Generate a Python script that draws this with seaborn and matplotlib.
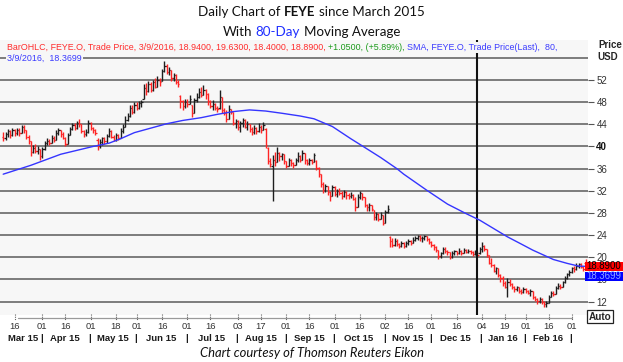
import numpy as np
import pandas as pd
import matplotlib
matplotlib.use("Agg")
import matplotlib.pyplot as plt
from matplotlib.patches import Rectangle
import seaborn as sns

# ---------------- data ----------------
HOLIDAYS = ['2015-04-03', '2015-05-25', '2015-07-03', '2015-09-07', '2015-11-26',
            '2015-12-25', '2016-01-01', '2016-01-18', '2016-02-15']
START, END = '2015-03-09', '2016-03-09'

OPEN = [41.8, 41.5, 42.2, 42.8, 42.0,  42.9, 42.4, 43.0, 42.5, 43.6,  42.9, 41.8, 41.0, 39.0, 39.8,
        39.2, 39.6, 38.2, 39.6,  40.6, 41.0, 40.6, 41.5, 41.2,  42.5, 42.9, 42.3, 41.6, 40.4,
        42.0, 43.2, 43.8, 43.4, 44.3,  44.0, 42.8, 42.2, 42.6, 44.2,  43.3, 43.0, 41.2, 40.0, 40.8,
        41.5, 40.9, 41.9, 42.8, 41.8,  41.2, 42.0, 41.6, 42.8, 43.6,  44.8, 45.5, 46.9, 46.3,
        47.4, 46.9, 47.8, 48.6, 50.6,  50.0, 51.2, 50.2, 51.6, 50.8,  52.0, 51.9, 53.6, 54.6, 53.4,
        53.8, 52.4, 52.9, 51.6, 49.2,  48.2, 47.3, 48.0, 47.6,  47.4, 46.0, 48.4, 49.0, 49.8,
        49.3, 50.2, 49.4, 48.2, 47.3,  47.6, 47.0, 46.9, 49.0, 46.6,  46.0, 45.0, 46.8, 46.3, 44.3,
        44.6, 43.6, 44.2, 44.8, 43.6,  44.1, 43.2, 42.6, 43.4, 42.8,  43.6, 43.0, 43.2, 39.8, 37.3,
        36.5, 37.6, 37.2, 38.8, 38.2,  38.6, 37.4, 36.5, 37.6, 37.0,  36.6, 37.5, 38.3, 37.6,
        38.9, 37.5, 37.0, 37.6, 37.2,  37.4, 36.2, 35.0, 33.2, 32.1,  32.8, 31.8, 31.0, 32.6, 31.4,
        32.0, 31.6, 31.0, 31.8, 31.2,  31.0, 31.3, 30.6, 29.0, 30.9,  31.6, 30.8, 29.4, 29.0, 29.5,
        28.6, 27.2, 27.8, 27.0, 27.6,  26.2, 28.2, 23.6, 23.0, 22.3,  22.9, 22.4, 22.0, 22.5, 22.1,
        22.6, 23.0, 22.6, 23.2, 23.4,  23.9, 23.4, 23.5, 23.8,  23.3, 22.8, 22.3, 21.8, 21.3,
        20.2, 20.8, 21.5, 21.2, 20.9,  20.0, 20.8, 21.1, 20.7, 21.2,  20.8, 21.3, 21.0, 21.2,
        20.9, 20.6, 21.0, 20.8,  21.5, 22.1, 21.5, 20.4, 19.0,  18.6, 17.6, 18.0, 16.8, 16.2,
        15.3, 14.7, 15.6, 15.2,  14.6, 14.2, 14.6, 14.0, 13.8,  14.3, 13.9, 13.5, 14.0, 12.8,
        12.4, 12.1, 12.5, 12.0, 11.5,  11.8, 12.9, 13.6, 13.4,  14.4, 14.9, 14.6, 15.5, 16.2,
        16.9, 17.3, 18.0, 17.8, 18.5,  18.7, 18.3, 18.94]

HIGH = [42.7, 42.6, 43.2, 43.0, 43.3,  43.2, 43.4, 43.3, 43.9, 43.8,  43.0, 42.0, 41.0, 40.3, 40.4,
        40.0, 39.4, 39.9, 41.0,  41.5, 41.3, 42.1, 41.9, 43.0,  43.3, 43.0, 42.6, 41.7, 42.4,
        43.6, 44.2, 44.3, 44.6, 45.0,  44.1, 43.0, 43.1, 44.7, 44.4,  43.6, 43.2, 41.5, 41.3, 41.8,
        41.7, 42.3, 43.3, 43.0, 42.0,  42.4, 42.2, 43.4, 44.0, 45.5,  46.1, 47.4, 47.4, 48.0,
        48.0, 48.2, 48.4, 51.2, 51.5,  51.8, 51.6, 52.0, 52.3, 52.7,  52.4, 54.0, 55.4, 54.9, 54.3,
        53.5, 53.3, 53.0, 52.0, 49.3,  48.4, 48.6, 48.5, 49.3,  47.5, 48.7, 49.6, 50.6, 50.8,
        51.1, 50.4, 49.6, 48.4, 48.4,  47.9, 47.3, 50.2, 47.5, 47.0,  46.6, 47.5, 46.8, 45.3, 45.0,
        44.8, 44.6, 45.1, 44.9, 44.6,  44.0, 43.6, 43.9, 43.6, 44.2,  43.8, 44.5, 43.3, 39.9, 38.0,
        38.5, 39.0, 39.9, 39.0, 38.9,  38.5, 37.4, 38.0, 37.8, 37.2,  37.9, 39.0, 38.5, 39.4,
        38.8, 37.8, 37.9, 37.8, 38.9,  37.5, 36.3, 34.6, 33.5, 33.3,  32.9, 32.0, 33.1, 32.8, 32.4,
        32.5, 31.9, 32.2, 31.9, 31.6,  31.7, 31.5, 30.8, 31.4, 32.0,  31.6, 30.9, 29.6, 29.8, 29.5,
        28.6, 28.2, 28.0, 28.1, 27.5,  28.5, 29.5, 23.8, 23.5, 23.4,  23.3, 22.6, 22.9, 22.8, 22.9,
        23.3, 23.2, 23.6, 23.8, 24.0,  24.0, 23.8, 24.0, 23.9,  23.5, 22.9, 22.4, 22.0, 21.2,
        21.0, 21.9, 21.8, 21.4, 20.9,  21.1, 21.4, 21.2, 21.6, 21.3,  21.6, 21.5, 21.5, 21.3,
        21.1, 21.3, 21.1, 21.9,  22.8, 22.3, 21.5, 20.3, 19.9,  18.8, 18.3, 18.0, 17.0, 16.6,
        15.8, 16.3, 16.0, 15.4,  14.8, 14.9, 14.7, 14.3, 14.6,  14.5, 14.1, 14.3, 13.9, 13.0,
        12.6, 12.8, 12.6, 12.1, 12.1,  13.2, 14.0, 13.9, 14.8,  15.4, 15.2, 15.8, 16.6, 17.2,
        17.7, 18.3, 18.4, 18.9, 19.0,  19.0, 18.4, 19.63]

LOW = [41.0, 41.2, 41.8, 41.6, 41.9,  41.9, 42.1, 41.9, 42.4, 42.5,  41.4, 40.5, 38.2, 38.8, 38.9,
       38.6, 37.6, 38.0, 39.4,  40.2, 40.2, 40.8, 40.8, 41.6,  42.0, 41.8, 41.3, 40.0, 40.6,
       42.2, 42.9, 43.0, 43.2, 43.6,  42.5, 41.7, 41.9, 42.4, 42.9,  42.5, 42.0, 39.4, 39.8, 40.3,
       40.5, 40.7, 41.8, 41.5, 40.9,  40.9, 41.1, 41.6, 42.5, 43.5,  44.6, 45.3, 45.8, 46.1,
       46.6, 46.8, 47.2, 48.6, 49.3,  49.8, 49.9, 50.1, 50.5, 50.8,  51.0, 51.9, 53.4, 53.1, 52.9,
       51.8, 51.9, 51.2, 50.7, 47.0,  46.6, 46.9, 47.2, 47.8,  45.3, 46.0, 48.0, 48.8, 49.0,
       49.3, 48.6, 47.5, 47.0, 46.6,  46.5, 46.3, 46.8, 46.0, 45.6,  44.4, 45.6, 45.8, 43.8, 43.3,
       43.0, 42.6, 43.5, 43.3, 43.0,  42.6, 42.1, 42.3, 42.3, 42.7,  42.5, 42.9, 39.7, 36.8, 36.3,
       30.1, 36.5, 37.2, 37.3, 37.6,  36.8, 36.1, 36.4, 36.4, 36.1,  36.6, 37.2, 37.2, 37.5,
       36.9, 36.6, 36.7, 36.8, 37.3,  35.8, 34.5, 32.6, 31.6, 31.8,  31.3, 30.2, 31.2, 31.0, 30.8,
       31.2, 30.6, 30.9, 30.5, 30.6,  30.7, 30.3, 28.4, 29.2, 30.6,  30.4, 29.0, 28.4, 28.3, 28.3,
       26.8, 26.8, 26.5, 26.9, 25.8,  26.2, 28.0, 21.9, 21.8, 22.0,  22.0, 21.6, 21.8, 21.7, 21.9,
       22.3, 22.3, 22.5, 22.9, 23.2,  23.0, 22.8, 23.2, 22.9,  22.4, 21.9, 21.3, 20.9, 19.7,
       19.9, 20.6, 20.7, 20.4, 19.7,  19.8, 20.5, 20.4, 20.6, 20.5,  20.7, 20.7, 20.8, 20.6,
       20.3, 20.4, 20.1, 20.6,  20.9, 21.1, 20.1, 18.7, 18.2,  17.3, 17.0, 16.4, 15.6, 14.8,
       14.4, 12.9, 14.8, 14.3,  13.8, 13.9, 13.6, 13.4, 13.5,  13.5, 13.3, 13.1, 12.5, 12.1,
       11.6, 11.8, 11.5, 11.1, 11.0,  11.9, 12.8, 13.0, 13.4,  14.3, 14.2, 14.7, 15.4, 16.1,
       16.7, 17.2, 17.3, 17.7, 18.1,  18.0, 17.5, 18.40]

CLOSE = [41.5, 42.2, 42.8, 42.0, 42.9,  42.4, 43.0, 42.5, 43.6, 42.9,  41.8, 41.0, 39.0, 39.8, 39.2,
         39.6, 38.2, 39.6, 40.6,  41.0, 40.6, 41.5, 41.2, 42.5,  42.9, 42.3, 41.6, 40.4, 42.0,
         43.2, 43.8, 43.4, 44.3, 44.0,  42.8, 42.2, 42.6, 44.2, 43.3,  43.0, 42.4, 40.0, 40.8, 41.5,
         40.9, 41.9, 42.8, 41.8, 41.2,  42.0, 41.6, 42.8, 43.6, 44.8,  45.5, 46.9, 46.3, 47.4,
         46.9, 47.8, 48.0, 50.6, 50.0,  51.2, 50.2, 51.6, 50.8, 52.0,  51.6, 53.6, 54.6, 53.4, 53.8,
         52.4, 52.9, 51.6, 51.2, 48.2,  47.3, 48.0, 47.6, 48.6,  46.0, 48.4, 49.0, 49.8, 49.3,
         50.2, 49.4, 48.2, 47.3, 47.6,  47.0, 46.7, 49.0, 46.6, 46.0,  45.0, 46.8, 46.3, 44.3, 44.6,
         43.6, 44.2, 44.8, 43.6, 44.1,  43.2, 42.6, 43.4, 42.8, 43.6,  43.0, 43.9, 40.2, 37.3, 36.8,
         37.6, 37.2, 38.8, 38.2, 38.6,  37.4, 36.5, 37.6, 37.0, 36.6,  37.5, 38.3, 37.6, 38.9,
         37.5, 37.0, 37.6, 37.2, 38.4,  36.2, 35.0, 33.2, 32.1, 32.8,  31.8, 31.0, 32.6, 31.4, 32.0,
         31.6, 31.0, 31.8, 31.2, 31.0,  31.3, 30.6, 29.0, 30.9, 31.6,  30.8, 29.4, 29.0, 29.5, 28.8,
         27.2, 27.8, 27.0, 27.6, 26.2,  28.2, 28.8, 23.0, 22.3, 22.9,  22.4, 22.0, 22.5, 22.1, 22.6,
         23.0, 22.6, 23.2, 23.4, 23.9,  23.4, 23.5, 23.8, 23.3,  22.8, 22.3, 21.8, 21.3, 20.2,
         20.8, 21.5, 21.2, 20.9, 20.0,  20.8, 21.1, 20.7, 21.2, 20.8,  21.3, 21.0, 21.2, 20.9,
         20.6, 21.0, 20.5, 21.5,  22.1, 21.5, 20.4, 19.0, 18.6,  17.6, 18.0, 16.8, 16.2, 15.3,
         14.7, 15.6, 15.2, 14.6,  14.2, 14.6, 14.0, 13.8, 14.3,  13.9, 13.5, 14.0, 12.8, 12.4,
         12.1, 12.5, 12.0, 11.5, 11.8,  12.9, 13.6, 13.4, 14.4,  14.9, 14.6, 15.5, 16.2, 16.9,
         17.3, 18.0, 17.8, 18.5, 18.7,  18.3, 17.84, 18.89]

SMA_DATES = ['2015-03-09', '2015-03-25', '2015-04-14', '2015-05-04', '2015-05-13', '2015-05-20',
             '2015-05-29', '2015-06-09', '2015-06-18', '2015-06-29', '2015-07-10', '2015-07-21',
             '2015-07-30', '2015-08-10', '2015-08-19', '2015-08-28', '2015-09-10', '2015-09-18',
             '2015-09-30', '2015-10-12', '2015-10-19', '2015-10-29', '2015-11-09', '2015-11-12',
             '2015-11-27', '2015-12-10', '2015-12-22', '2015-12-31', '2016-01-11', '2016-01-20',
             '2016-01-28', '2016-02-04', '2016-02-18', '2016-02-26', '2016-03-04', '2016-03-09']
SMA_VALUES = [35.0, 36.6, 38.6, 40.0, 40.6, 41.4, 42.5, 43.3, 44.1, 44.7, 45.2, 45.8,
              46.3, 46.6, 46.4, 46.0, 45.5, 45.0, 43.6, 41.4, 40.1, 38.0, 36.0, 35.0,
              32.1, 29.6, 27.9, 26.7, 25.2, 23.7, 22.4, 21.3, 19.6, 18.9, 18.4, 18.37]

TICK_DATES = ['2015-03-16', '2015-04-01', '2015-04-16', '2015-05-01', '2015-05-18', '2015-06-01',
              '2015-06-16', '2015-07-01', '2015-07-16', '2015-08-03', '2015-08-17', '2015-09-01',
              '2015-09-16', '2015-10-01', '2015-10-16', '2015-11-02', '2015-11-16', '2015-12-01',
              '2015-12-16', '2016-01-04', '2016-01-19', '2016-02-01', '2016-02-16', '2016-03-01']
TICK_LABELS = ['16', '01', '16', '01', '18', '01', '16', '01', '16', '03', '17', '01',
               '16', '01', '16', '02', '16', '01', '16', '04', '19', '01', '16', '01']
MONTH_LABELS = ['Mar 15', 'Apr 15', 'May 15', 'Jun 15', 'Jul 15', 'Aug 15', 'Sep 15',
                'Oct 15', 'Nov 15', 'Dec 15', 'Jan 16', 'Feb 16']
VLINE_DATE = '2015-12-30'
Y_TICKS = [12, 16, 20, 24, 28, 32, 36, 40, 44, 48, 52]
GRID_LEVELS = [12, 16, 20, 24, 28, 32, 36, 40, 44, 48, 52, 56]

LAST_CLOSE_TXT = '18.8900'
LAST_SMA_TXT = '18.3699'

# ---------------- build frame ----------------
days = pd.bdate_range(START, END)
days = days[~days.isin(pd.to_datetime(HOLIDAYS))]
df = pd.DataFrame({'date': days, 'open': OPEN, 'high': HIGH, 'low': LOW, 'close': CLOSE})
df['pos'] = np.arange(len(df))
sma = pd.DataFrame({'date': pd.to_datetime(SMA_DATES), 'sma': SMA_VALUES})
sma['pos'] = days.get_indexer(sma['date'])
tick_pos = days.get_indexer(pd.to_datetime(TICK_DATES))
vline_pos = days.get_indexer(pd.to_datetime([VLINE_DATE]))[0]

# ---------------- figure ----------------
sns.set_style('white')
plt.rcParams['font.family'] = ['Liberation Sans', 'DejaVu Sans']

W, H = 623, 362
fig = plt.figure(figsize=(W / 100, H / 100), dpi=100)
fig.patch.set_facecolor('white')

def fx(px):
    return px / W

def fy(py):
    return 1 - py / H

PLOT_TOP, PLOT_BOT, PLOT_RIGHT = 40, 315, 588
ax = fig.add_axes([0, fy(PLOT_BOT), fx(PLOT_RIGHT), (PLOT_BOT - PLOT_TOP) / H])
ax.set_zorder(-1)
BG = '#f7f7f7'
ax.set_facecolor(BG)
for s in ax.spines.values():
    s.set_visible(False)

ax.set_ylim(52 - (PLOT_BOT - 80) / 5.54, 52 + (80 - PLOT_TOP) / 5.54)
ax.set_xlim(-3.2 / 2.302, (PLOT_RIGHT - 3.2) / 2.302)

for g in GRID_LEVELS:
    ax.axhline(g, color='#686868', lw=1.2, zorder=1)

ax.axvline(vline_pos, color='#111111', lw=1.5, zorder=4)

# OHLC bars
down = df['close'] < df['open']
cols = np.where(down, '#ff2424', '#1e1e1e')
lo = np.minimum(df['low'], np.minimum(df['open'], df['close']))
hi = np.maximum(df['high'], np.maximum(df['open'], df['close']))
ax.vlines(df['pos'], lo, hi, colors=cols, lw=1.0, zorder=3)
ax.hlines(df['open'], df['pos'] - 0.55, df['pos'], colors=cols, lw=0.9, zorder=3)
ax.hlines(df['close'], df['pos'], df['pos'] + 0.55, colors=cols, lw=0.9, zorder=3)

# moving average
sns.lineplot(data=sma, x='pos', y='sma', ax=ax, color='#3535ff', lw=1.0, zorder=5,
             legend=False, sort=True)
ax.set_xlabel('')
ax.set_ylabel('')
ax.set_xticks([])

# right y axis
ax.yaxis.tick_right()
ax.set_yticks(Y_TICKS)
ax.set_yticklabels([str(v) for v in Y_TICKS])
ax.tick_params(axis='y', length=4, width=0.8, color='#555555', pad=2,
               labelsize=7, labelcolor='#333333', right=True)
for lab in ax.get_yticklabels():
    if lab.get_text() == '40':
        lab.set_fontweight('bold')
        lab.set_color('#111111')

fig.text(fx(598), fy(45), 'Price', fontsize=7, fontweight='bold', ha='left', va='center')
fig.text(fx(597), fy(57.5), 'USD', fontsize=7, fontweight='bold', ha='left', va='center')

# value boxes (drawn above the axes and its tick labels)
fig.patches.append(Rectangle((fx(585), fy(271)), fx(38), 9.5 / H, transform=fig.transFigure,
                             facecolor='#ff0000', edgecolor='none', zorder=6))
fig.text(fx(586.5), fy(266.3), LAST_CLOSE_TXT, fontsize=6.9, color='#000000',
         ha='left', va='center', zorder=7)
fig.patches.append(Rectangle((fx(585), fy(281)), fx(38), 9.5 / H, transform=fig.transFigure,
                             facecolor='#0000ff', edgecolor='none', zorder=6))
fig.text(fx(586.5), fy(276.3), LAST_SMA_TXT, fontsize=6.9, color='#8fa5ff',
         ha='left', va='center', zorder=7)

# Auto box
fig.text(fx(600), fy(316.5), 'Auto', fontsize=7.2, fontweight='bold', ha='center', va='center',
         bbox=dict(boxstyle='square,pad=0.18', facecolor='white', edgecolor='#222222', lw=0.9))

# ---------------- rich text helper ----------------
fig.canvas.draw()
R = fig.canvas.get_renderer()

def _w(s, **kw):
    t = fig.text(0, 0, s, **kw)
    w = t.get_window_extent(R).width
    t.remove()
    return w

def rich(parts, x, y, ha='left', bg=None, **common):
    items = []
    total = 0.0
    for s, kw in parts:
        kk = dict(common)
        kk.update(kw)
        sp = _w('a a', **kk) - _w('aa', **kk)
        core = s.strip(' ')
        lead = len(s) - len(s.lstrip(' '))
        trail = len(s) - len(s.rstrip(' '))
        cw = _w(core, **kk) if core else 0.0
        items.append((core, kk, total + lead * sp, cw))
        total += cw + (lead + trail) * sp
    x0 = x - total / 2 if ha == 'center' else x
    hts = []
    for core, kk, off, cw in items:
        if core:
            t = fig.text(fx(x0 + off), fy(y), core, ha='left', va='center', zorder=8, **kk)
            hts.append(t.get_window_extent(R).height)
    if bg is not None:
        h = max(hts) if hts else 8
        fig.patches.append(Rectangle((fx(x0 - 1), fy(y) - (h / 2 + 0.5) / H), fx(total + 2),
                                     (h + 1) / H, transform=fig.transFigure,
                                     facecolor=bg, edgecolor='none', zorder=7))
    return total

TITLE_FONT = ['Lato', 'DejaVu Sans']
rich([('Daily Chart of ', {}), ('FEYE', {'fontweight': 'bold'}), (' since March 2015', {})],
     311.5, 12, ha='center', fontsize=9.6, family=TITLE_FONT, color='#111111')
rich([('With ', {}), ('80-Day', {'color': '#1f2fff'}), (' Moving Average', {})],
     311.5, 32, ha='center', fontsize=9.6, family=TITLE_FONT, color='#111111')

RED, GREEN, BLUE = '#ff2b2b', '#1a9a1a', '#3a3aff'
leg1 = [('BarOHLC, FEYE.O, Trade Price, 3/9/2016, 18.9400, 19.6300, 18.4000, 18.8900, ', {'color': RED}),
        ('+1.0500, (+5.89%), ', {'color': GREEN}),
        ('SMA, FEYE.O, Trade Price(Last),  80,', {'color': BLUE})]
rich(leg1, 7, 47.5, bg=BG, fontsize=6.38)
rich([('3/9/2016,  18.3699', {'color': BLUE})], 7, 58, bg=BG, fontsize=6.38)

# ---------------- x axis (date labels) ----------------
ax_x0 = ax.get_xlim()[0]
ax_x1 = ax.get_xlim()[1]

def px_of(pos):
    return (pos - ax_x0) / (ax_x1 - ax_x0) * PLOT_RIGHT

fig.lines.append(plt.Line2D([fx(18), fx(572)], [fy(318), fy(318)], transform=fig.transFigure,
                            color='#9a9a9a', lw=0.9))
for p, lab in zip(tick_pos, TICK_LABELS):
    xp = px_of(p)
    fig.lines.append(plt.Line2D([fx(xp), fx(xp)], [fy(314), fy(320)], transform=fig.transFigure,
                                color='#666666', lw=0.8, ls=(0, (1, 1))))
    fig.text(fx(xp), fy(326.5), lab, fontsize=6.8, color='#333333', ha='center', va='center')

month_start = df.groupby(df['date'].dt.to_period('M'))['pos'].agg(['min', 'max'])
bounds = list(month_start['min'].values[1:] - 0.5)
lefts = [ax_x0] + bounds[:-1]
for lab, a, b in zip(MONTH_LABELS, lefts, bounds):
    fig.text(fx((px_of(a) + px_of(b)) / 2 + (3 if lab == 'Mar 15' else 0)), fy(338.5), lab,
             fontsize=6.8, fontweight='bold', color='#1a1a1a', ha='center', va='center')
for b in bounds:
    fig.text(fx(px_of(b)), fy(338.5), '|', fontsize=6.8, fontweight='bold', color='#1a1a1a',
             ha='center', va='center')

fig.text(fx(312), fy(353), 'Chart courtesy of Thomson Reuters Eikon', fontsize=9.4,
         style='italic', family=TITLE_FONT, color='#111111', ha='center', va='center')

fig.savefig('out.png', dpi=100, facecolor='white')
